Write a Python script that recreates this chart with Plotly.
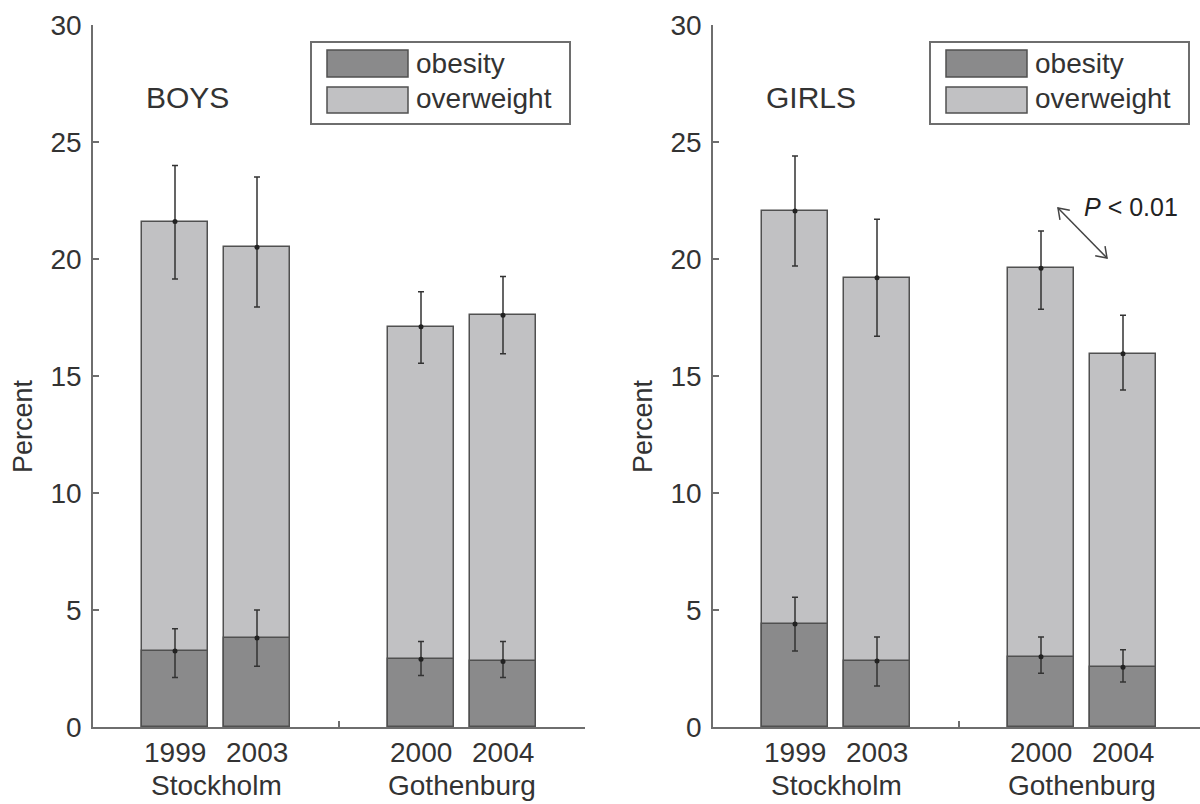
import math
import plotly.graph_objects as go

W, H = 1200, 804

# ---- data ----
years = ["1999", "2003", "2000", "2004"]
cities = ["Stockholm", "Gothenburg"]
x_pos = [1, 2, 4, 5]
city_pos = [1.5, 4.5]
series_names = ["obesity", "overweight"]
panel_titles = ["BOYS", "GIRLS"]

boys_total = [21.6, 20.5, 17.1, 17.6]
boys_total_lo = [19.15, 17.95, 15.55, 15.95]
boys_total_hi = [24.0, 23.5, 18.6, 19.25]
boys_obesity = [3.25, 3.8, 2.9, 2.8]
boys_obesity_lo = [2.12, 2.6, 2.2, 2.12]
boys_obesity_hi = [4.2, 5.0, 3.65, 3.65]

girls_total = [22.05, 19.2, 19.6, 15.95]
girls_total_lo = [19.7, 16.7, 17.85, 14.4]
girls_total_hi = [24.4, 21.7, 21.2, 17.6]
girls_obesity = [4.4, 2.82, 3.0, 2.55]
girls_obesity_lo = [3.25, 1.75, 2.3, 1.92]
girls_obesity_hi = [5.55, 3.85, 3.85, 3.3]

p_text = "<i>P</i> &lt; 0.01"

# ---- style ----
C_OB = "#8a8a8b"
C_OW = "#c1c1c3"
C_EDGE = "#505050"
C_AX = "#6e6e6e"
C_TXT = "#333333"
FONT = "Liberation Sans, Arial, sans-serif"
FS = 28

def px(x):
    return x / W

def py(y):
    return 1 - y / H

UNIT = 82.0
left_x0, left_x1 = 93, 585
right_x0, right_x1 = 713, 1200
y_top, y_bot = 25, 727

fig = go.Figure()

panels = [
    ("x", "y", boys_total, boys_total_lo, boys_total_hi, boys_obesity, boys_obesity_lo, boys_obesity_hi),
    ("x2", "y2", girls_total, girls_total_lo, girls_total_hi, girls_obesity, girls_obesity_lo, girls_obesity_hi),
]

for xa, ya, tot, tlo, thi, ob, olo, ohi in panels:
    fig.add_trace(go.Bar(x=x_pos, y=tot, width=0.8, xaxis=xa, yaxis=ya,
                         marker=dict(color=C_OW, line=dict(color=C_EDGE, width=1.5)),
                         showlegend=False, name=series_names[1]))
    fig.add_trace(go.Bar(x=x_pos, y=ob, width=0.8, xaxis=xa, yaxis=ya,
                         marker=dict(color=C_OB, line=dict(color=C_EDGE, width=1.5)),
                         showlegend=False, name=series_names[0]))
    for vals, lo, hi in ((tot, tlo, thi), (ob, olo, ohi)):
        fig.add_trace(go.Scatter(
            x=x_pos, y=vals, xaxis=xa, yaxis=ya, mode="markers",
            marker=dict(color="#222222", size=5),
            error_y=dict(type="data", symmetric=False,
                         array=[h - v for h, v in zip(hi, vals)],
                         arrayminus=[v - l for v, l in zip(vals, lo)],
                         color="#333333", thickness=1.5, width=3),
            showlegend=False, hoverinfo="skip"))

yax = dict(range=[0, 30], domain=[py(y_bot), py(y_top)], tickvals=[0, 5, 10, 15, 20, 25, 30],
           ticks="inside", ticklen=6, tickcolor=C_AX, tickwidth=1.5, automargin=False,
           showline=True, linecolor=C_AX, linewidth=1.5, showgrid=False, zeroline=False,
           tickfont=dict(family=FONT, size=FS, color=C_TXT), ticklabelstandoff=4)
xax = dict(showline=True, linecolor=C_AX, linewidth=1.5, showgrid=False, zeroline=False,
           tickvals=[], showticklabels=False, automargin=False,
           minor=dict(tickvals=[3], ticks="inside", ticklen=6, tickcolor=C_AX, tickwidth=1.5))

fig.update_layout(
    width=W, height=H, margin=dict(l=0, r=0, t=0, b=0, pad=0, autoexpand=False),
    paper_bgcolor="white", plot_bgcolor="white", showlegend=False,
    barmode="overlay", bargap=0,
    xaxis=dict(xax, domain=[px(left_x0), px(left_x1)], range=[0, (left_x1 - left_x0) / UNIT], anchor="y"),
    yaxis=dict(yax, anchor="x"),
    xaxis2=dict(xax, domain=[px(right_x0), px(right_x1)], range=[0, (right_x1 - right_x0) / UNIT], anchor="y2"),
    yaxis2=dict(yax, anchor="x2"),
    font=dict(family=FONT, color=C_TXT),
)

annotations = []
shapes = []
for i, (xr, x0) in enumerate((("x", left_x0), ("x2", right_x0))):
    for xv, t in zip(x_pos, years):
        annotations.append(dict(x=xv, y=py(752), xref=xr, yref="paper", text=t, showarrow=False,
                                xanchor="center", yanchor="middle",
                                font=dict(family=FONT, size=FS, color=C_TXT)))
    for xv, t in zip(city_pos, cities):
        annotations.append(dict(x=xv, y=py(785), xref=xr, yref="paper", text=t, showarrow=False,
                                xanchor="center", yanchor="middle",
                                font=dict(family=FONT, size=FS, color=C_TXT)))
    annotations.append(dict(x=px(x0 - 70), y=py(426), xref="paper", yref="paper", text="Percent",
                            textangle=-90, showarrow=False, xanchor="center", yanchor="middle",
                            font=dict(family=FONT, size=FS - 1, color=C_TXT)))
    annotations.append(dict(x=px(x0 + 51), y=py(98), xref="paper", yref="paper", text=panel_titles[i],
                            xanchor="left", yanchor="middle", showarrow=False,
                            font=dict(family=FONT, size=30, color=C_TXT)))
    off = 0 if i == 0 else 619
    bx0, bx1, by0, by1 = 311 + off, 570 + off, 42, 124
    shapes.append(dict(type="rect", xref="paper", yref="paper", x0=px(bx0), x1=px(bx1), y0=py(by1), y1=py(by0),
                       line=dict(color=C_AX, width=2), fillcolor="white", layer="above"))
    for j, (col, yy0, yy1, yc) in enumerate(((C_OB, 50, 77, 63), (C_OW, 87, 113, 99))):
        shapes.append(dict(type="rect", xref="paper", yref="paper", x0=px(327 + off), x1=px(408 + off),
                           y0=py(yy1), y1=py(yy0), line=dict(color=C_EDGE, width=1.5), fillcolor=col,
                           layer="above"))
        annotations.append(dict(x=px(414 + off), y=py(yc), xref="paper", yref="paper", text=series_names[j],
                                xanchor="left", yanchor="middle", showarrow=False,
                                font=dict(family=FONT, size=FS, color=C_TXT)))

annotations.append(dict(x=px(1082), y=py(207), xref="paper", yref="paper", text=p_text, xanchor="left",
                        yanchor="middle", showarrow=False, font=dict(family=FONT, size=FS - 3, color="#222222")))
ax0, ay0, ax1, ay1 = 1058, 208, 1107, 258
shapes.append(dict(type="line", xref="paper", yref="paper", x0=px(ax0), y0=py(ay0), x1=px(ax1), y1=py(ay1),
                   line=dict(color="#444444", width=1.5)))

def head(tx, ty, fx, fy, L=12, ang=math.radians(35)):
    dx, dy = fx - tx, fy - ty
    n = math.hypot(dx, dy)
    dx, dy = dx / n, dy / n
    pts = []
    for s in (1, -1):
        c, si = math.cos(s * ang), math.sin(s * ang)
        pts.append((tx + L * (dx * c - dy * si), ty + L * (dx * si + dy * c)))
    return "M {} {} L {} {} L {} {}".format(px(pts[0][0]), py(pts[0][1]), px(tx), py(ty), px(pts[1][0]), py(pts[1][1]))

shapes.append(dict(type="path", xref="paper", yref="paper", path=head(ax0, ay0, ax1, ay1),
                   line=dict(color="#444444", width=1.5)))
shapes.append(dict(type="path", xref="paper", yref="paper", path=head(ax1, ay1, ax0, ay0),
                   line=dict(color="#444444", width=1.5)))

fig.update_layout(annotations=annotations, shapes=shapes)

fig.write_html("out.html", config={"displayModeBar": False},
               post_script="document.body.style.margin='0';")
